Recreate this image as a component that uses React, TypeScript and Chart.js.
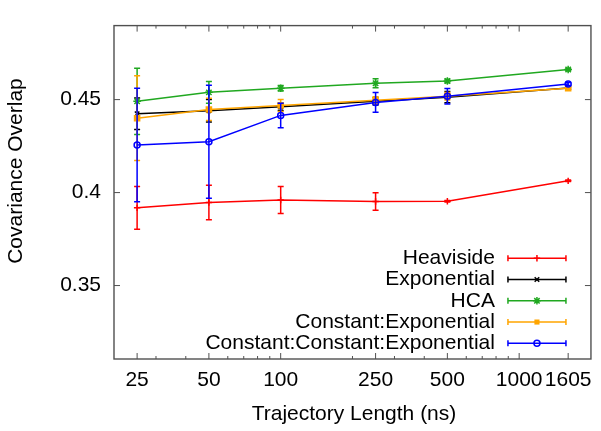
import React, { useEffect, useRef } from 'react';
import { Chart, registerables } from 'chart.js';

Chart.register(...registerables);

// ---- data ----
const xValues = [25, 50, 100, 250, 500, 1605];
const seriesNames = [
  'Heaviside',
  'Exponential',
  'HCA',
  'Constant:Exponential',
  'Constant:Constant:Exponential',
];
const heaviside = [0.3918, 0.3947, 0.396, 0.3952, 0.3953, 0.4063];
const heavisideErr = [0.0115, 0.0093, 0.0073, 0.0047, 0.0004, 0.0004];
const exponential = [0.4424, 0.444, 0.4461, 0.4491, 0.4513, 0.4562];
const exponentialErr = [0.0085, 0.006, 0.002, 0.002, 0.003, 0.0006];
const hca = [0.4491, 0.4539, 0.4561, 0.4588, 0.46, 0.4662];
const hcaErr = [0.0178, 0.0059, 0.0015, 0.0024, 0.001, 0.0005];
const constExp = [0.44, 0.4447, 0.4468, 0.4496, 0.4518, 0.4561];
const constExpErr = [0.0228, 0.006, 0.0032, 0.002, 0.002, 0.0005];
const constConstExp = [0.4256, 0.4273, 0.4415, 0.4485, 0.4518, 0.4584];
const constConstExpErr = [0.0305, 0.0304, 0.0066, 0.0053, 0.0042, 0.0008];

const xMajorTicks = [25, 50, 100, 250, 500, 1000, 1605];
const xMinorTicks = [30, 40, 60, 70, 80, 90, 200, 300, 400, 600, 700, 800, 900];
const yTicks = [0.35, 0.4, 0.45];
const yTickLabels = ['0.35', '0.4', '0.45'];
const xTitle = 'Trajectory Length (ns)';
const yTitle = 'Covariance Overlap';

const seriesValues = [heaviside, exponential, hca, constExp, constConstExp];
const seriesErrors = [heavisideErr, exponentialErr, hcaErr, constExpErr, constConstExpErr];
const colors = ['#ff0000', '#000000', '#20a820', '#ffa500', '#0000ff'];
const markerStyles = ['cross', 'crossRot', 'star', 'rect', 'circle'];
const markerRadii = [3.2, 3.2, 3.8, 3.6, 3];

const FONT = '"Liberation Sans", Arial, Helvetica, sans-serif';
const AXIS_COLOR = '#505050';

function drawMarker(ctx: CanvasRenderingContext2D, style: string, x: number, y: number, r: number, color: string) {
  ctx.save();
  ctx.strokeStyle = color;
  ctx.fillStyle = color;
  ctx.lineWidth = 1.5;
  ctx.beginPath();
  if (style === 'cross' || style === 'star') {
    ctx.moveTo(x - r, y); ctx.lineTo(x + r, y);
    ctx.moveTo(x, y - r); ctx.lineTo(x, y + r);
  }
  if (style === 'crossRot' || style === 'star') {
    const d = r * Math.SQRT1_2;
    ctx.moveTo(x - d, y - d); ctx.lineTo(x + d, y + d);
    ctx.moveTo(x - d, y + d); ctx.lineTo(x + d, y - d);
  }
  ctx.stroke();
  if (style === 'rect') {
    const s = r * Math.SQRT2;
    ctx.fillRect(x - s / 2, y - s / 2, s, s);
  }
  if (style === 'circle') {
    ctx.beginPath();
    ctx.arc(x, y, r, 0, Math.PI * 2);
    ctx.stroke();
  }
  ctx.restore();
}

const framePlugin = {
  id: 'frameTicksErrors',
  beforeDatasetsDraw(chart: any) {
    const { ctx, chartArea } = chart;
    const { left, right, top, bottom } = chartArea;
    const xs = chart.scales.x;
    const ys = chart.scales.y;
    ctx.save();
    ctx.strokeStyle = AXIS_COLOR;
    ctx.lineWidth = 1;
    ctx.beginPath();
    xMajorTicks.forEach((v) => {
      const px = xs.getPixelForValue(v);
      ctx.moveTo(px, bottom); ctx.lineTo(px, bottom - 6);
      ctx.moveTo(px, top); ctx.lineTo(px, top + 6);
    });
    xMinorTicks.forEach((v) => {
      const px = xs.getPixelForValue(v);
      ctx.moveTo(px, bottom); ctx.lineTo(px, bottom - 3);
      ctx.moveTo(px, top); ctx.lineTo(px, top + 3);
    });
    yTicks.forEach((v) => {
      const py = ys.getPixelForValue(v);
      ctx.moveTo(left, py); ctx.lineTo(left + 6, py);
      ctx.moveTo(right, py); ctx.lineTo(right - 6, py);
    });
    ctx.stroke();
    ctx.lineWidth = 1.4;
    ctx.strokeRect(left, top, right - left, bottom - top);
    ctx.restore();
  },
  beforeDatasetDraw(chart: any, args: any) {
    const i = args.index;
    const errs = seriesErrors[i];
    const vals = seriesValues[i];
    const { ctx } = chart;
    const xs = chart.scales.x;
    const ys = chart.scales.y;
    ctx.save();
    ctx.strokeStyle = colors[i];
    ctx.lineWidth = 1.5;
    ctx.beginPath();
    xValues.forEach((xv, j) => {
      const px = xs.getPixelForValue(xv);
      const y1 = ys.getPixelForValue(vals[j] + errs[j]);
      const y2 = ys.getPixelForValue(vals[j] - errs[j]);
      ctx.moveTo(px, y1); ctx.lineTo(px, y2);
      ctx.moveTo(px - 3, y1); ctx.lineTo(px + 3, y1);
      ctx.moveTo(px - 3, y2); ctx.lineTo(px + 3, y2);
    });
    ctx.stroke();
    ctx.restore();
  },
  afterDatasetsDraw(chart: any) {
    const { ctx, chartArea } = chart;
    const { right, bottom } = chartArea;
    ctx.save();
    ctx.font = `21px ${FONT}`;
    ctx.fillStyle = '#000';
    ctx.textAlign = 'right';
    ctx.textBaseline = 'middle';
    seriesNames.forEach((name, i) => {
      const y = bottom - 15.7 - (seriesNames.length - 1 - i) * 21.25;
      ctx.fillText(name, right - 96, y);
      const x1 = right - 83;
      const x2 = right - 25;
      ctx.strokeStyle = colors[i];
      ctx.lineWidth = 1.5;
      ctx.beginPath();
      ctx.moveTo(x1, y); ctx.lineTo(x2, y);
      ctx.moveTo(x1, y - 3); ctx.lineTo(x1, y + 3);
      ctx.moveTo(x2, y - 3); ctx.lineTo(x2, y + 3);
      ctx.stroke();
      drawMarker(ctx, markerStyles[i], (x1 + x2) / 2, y, markerRadii[i], colors[i]);
    });
    // axis titles
    ctx.textAlign = 'center';
    ctx.textBaseline = 'alphabetic';
    ctx.fillText(xTitle, (chartArea.left + chartArea.right) / 2 + 1.5, bottom + 61);
    ctx.save();
    ctx.translate(22, 171);
    ctx.rotate(-Math.PI / 2);
    ctx.fillText(yTitle, 0, 0);
    ctx.restore();
    ctx.restore();
  },
};

export default function App() {
  const canvasRef = useRef<HTMLCanvasElement | null>(null);

  useEffect(() => {
    const canvas = canvasRef.current;
    if (!canvas) return;
    const chart = new Chart(canvas, {
      type: 'line',
      data: {
        datasets: seriesNames.map((name, i) => ({
          label: name,
          data: seriesValues[i].map((v, j) => ({ x: xValues[j], y: v })),
          borderColor: colors[i],
          backgroundColor: colors[i],
          borderWidth: 1.5,
          pointStyle: markerStyles[i] as any,
          pointRadius: markerRadii[i],
          pointBorderWidth: 1.5,
          pointBorderColor: colors[i],
          pointBackgroundColor: i === 4 ? 'rgba(0,0,0,0)' : colors[i],
          fill: false,
          tension: 0,
          order: seriesNames.length - i,
        })),
      },
      options: {
        responsive: false,
        animation: false,
        devicePixelRatio: 1,
        layout: { padding: { top: 6, right: 10, left: 0, bottom: 0 } },
        plugins: {
          legend: { display: false },
          tooltip: { enabled: false },
        },
        scales: {
          x: {
            type: 'logarithmic',
            min: 20,
            max: 2000,
            grid: { display: false, drawTicks: false },
            border: { display: false },
            afterBuildTicks: (s: any) => {
              s.ticks = xMajorTicks.map((v) => ({ value: v }));
            },
            afterFit: (s: any) => {
              s.height = 72;
            },
            ticks: {
              autoSkip: false,
              maxRotation: 0,
              minRotation: 0,
              padding: 9,
              color: '#000',
              font: { family: FONT, size: 21 },
              callback: (v: any) => String(v),
            },
          },
          y: {
            type: 'linear',
            min: 0.3105,
            max: 0.4898,
            grid: { display: false, drawTicks: false },
            border: { display: false },
            afterBuildTicks: (s: any) => {
              s.ticks = yTicks.map((v) => ({ value: v }));
            },
            afterFit: (s: any) => {
              s.width = 114;
            },
            ticks: {
              padding: 13,
              color: '#000',
              font: { family: FONT, size: 21 },
              callback: (_v: any, idx: number) => yTickLabels[idx],
            },
          },
        },
      },
      plugins: [framePlugin],
    });
    return () => chart.destroy();
  }, []);

  return (
    <div style={{ position: 'absolute', left: 0, top: 0, width: 601, height: 431, background: '#fff' }}>
      <canvas ref={canvasRef} width={601} height={431} style={{ display: 'block' }} />
    </div>
  );
}
